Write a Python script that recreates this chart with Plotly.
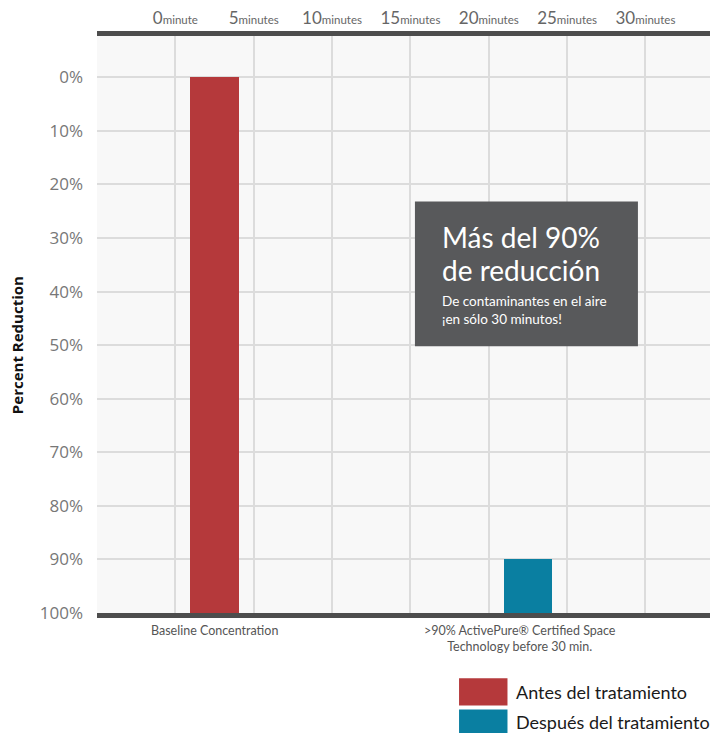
import plotly.graph_objects as go

# ---- data ----
categories = ["Baseline Concentration", ">90% ActivePure® Certified Space<br>Technology before 30 min."]
bar_minutes = [2.5, 22.5]          # position on the minutes scale
remaining_pct = [100, 10]          # remaining concentration (reduction = 100 - value)
bar_colors = ["#b5393b", "#0a7fa1"]
minute_ticks = [0, 5, 10, 15, 20, 25, 30]
minute_units = ["minute", "minutes", "minutes", "minutes", "minutes", "minutes", "minutes"]
reduction_ticks = [0, 10, 20, 30, 40, 50, 60, 70, 80, 90, 100]
legend_names = ["Antes del tratamiento", "Después del tratamiento"]
box_title = ["Más del 90%", "de reducción"]
box_sub = "De contaminantes en el aire<br>¡en sólo 30 minutos!"

# the page body has an 8px default margin, so the figure is sized/offset to compensate
fig = go.Figure()
fig.add_trace(go.Bar(
    x=bar_minutes, y=remaining_pct, width=3.1,
    marker=dict(color=bar_colors, line=dict(width=0)),
    showlegend=False, hoverinfo="skip",
))

fig.update_layout(
    width=710, height=725,
    margin=dict(l=89, r=0, t=28, b=120),
    paper_bgcolor="white",
    plot_bgcolor="#f8f8f8",
    font=dict(family="Lato", color="#333"),
    showlegend=False,
    bargap=0,
)

fig.update_xaxes(
    range=[-5.0, 34.63], side="top", automargin=False,
    tickvals=minute_ticks,
    ticktext=[f"{m}<span style='font-size:11.5px'>{u}</span>" for m, u in zip(minute_ticks, minute_units)],
    tickfont=dict(family="Lato", size=17, color="#666"),
    showgrid=True, gridcolor="#dcdcdc", gridwidth=1.5,
    showline=True, linecolor="#4d4d4d", linewidth=4.5, mirror=True,
    ticks="", ticklabelstandoff=0,
    zeroline=False, fixedrange=True,
)
fig.update_yaxes(
    range=[0, 107.7], automargin=False,
    tickvals=[100 - r for r in reduction_ticks],
    ticktext=[f"{r}%" for r in reduction_ticks],
    tickfont=dict(family="Open Sans", size=17, color="#777"),
    showgrid=True, gridcolor="#dcdcdc", gridwidth=1.5,
    zeroline=False, showline=False, ticks="", ticklabelstandoff=13,
    fixedrange=True,
)

# y axis title
fig.add_annotation(
    text="<b>Percent Reduction</b>", textangle=-90,
    xref="paper", x=0, xanchor="center", xshift=-80, yref="y", y=50,
    showarrow=False, font=dict(family="Open Sans", size=15, color="#111"),
)

# category labels under the bars
label_shift = [0, -8]
for cx, label, sh in zip(bar_minutes, categories, label_shift):
    fig.add_annotation(
        text=label, xref="x", x=cx, xshift=sh, yref="paper", y=0, yanchor="top", yshift=-8,
        showarrow=False, align="center",
        font=dict(family="Source Sans Pro, Lato", size=12.5, color="#555"),
    )

# dark callout box
fig.add_shape(type="rect", xref="x", yref="y", x0=15.29, x1=29.52, y0=49.8, y1=76.8,
              fillcolor="#58595b", line=dict(width=0), layer="above")
fig.add_annotation(text=box_title[0], xref="x", x=16.9, yref="y", y=70.2,
                   xanchor="left", yanchor="middle", showarrow=False,
                   font=dict(family="Lato", size=28, color="white"))
fig.add_annotation(text=box_title[1], xref="x", x=16.9, yref="y", y=64.1,
                   xanchor="left", yanchor="middle", showarrow=False,
                   font=dict(family="Lato", size=28, color="white"))
fig.add_annotation(text=box_sub, xref="x", x=16.9, yref="y", y=56.5,
                   xanchor="left", yanchor="middle", showarrow=False, align="left",
                   font=dict(family="Lato", size=13.5, color="white"))

# custom legend
leg_y = [(-0.1132, -0.1603), (-0.1672, -0.2108)]
for (y0, y1), name, col in zip(leg_y, legend_names, bar_colors):
    fig.add_shape(type="rect", xref="paper", yref="paper", x0=0.583, x1=0.661,
                  y0=y1, y1=y0, fillcolor=col, line=dict(width=0))
    fig.add_annotation(text=name, xref="paper", x=0.671, yref="paper", y=(y0 + y1) / 2,
                       xanchor="left", yanchor="middle", showarrow=False,
                       font=dict(family="Lato", size=18, color="#1a1a1a"))

fig.write_html("out.html")
